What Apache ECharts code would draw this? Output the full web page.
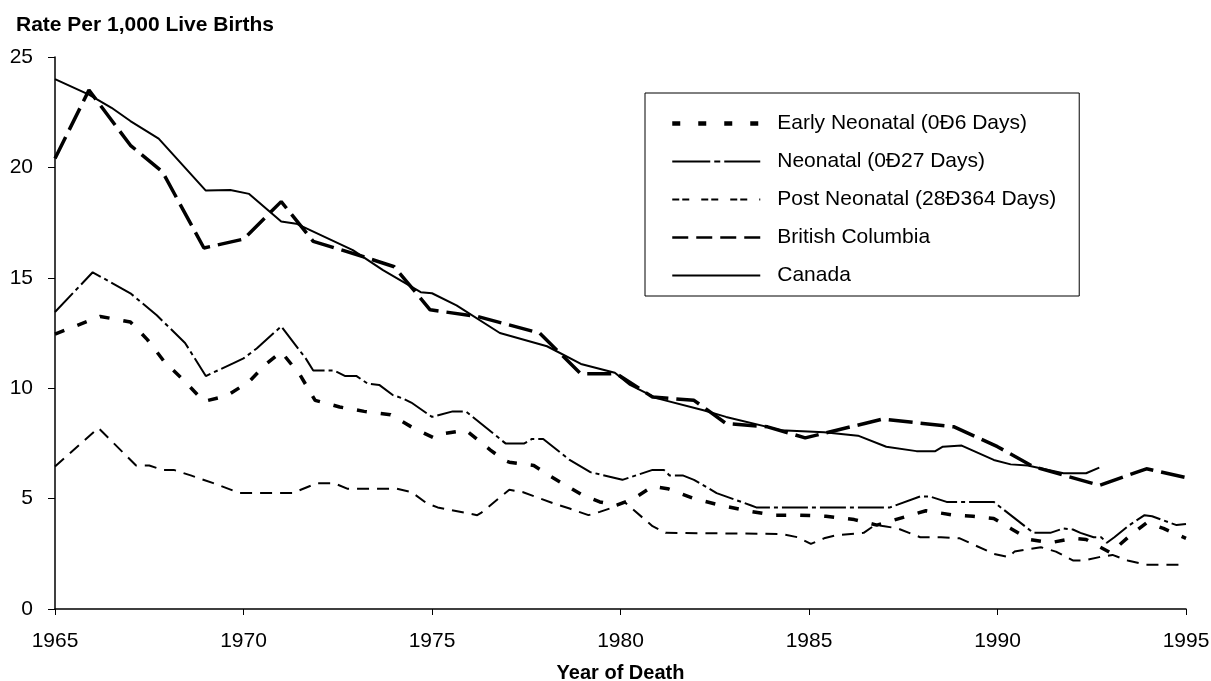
<!DOCTYPE html>
<html lang="en">
<head>
    <meta charset="UTF-8">
    <script src="https://cdn.jsdelivr.net/npm/echarts@6/dist/echarts.min.js"></script>
    <title>Infant mortality rates</title>
    <style>
        html, body { margin: 0; padding: 0; background: #fff; }
    </style>
</head>
<body>
<div id="main" style="width: 1211px;height:681px;"></div>
<script type="text/javascript">
    // data (year, rate per 1,000 live births)
    var earlyYears = [1965, 1966.2, 1967, 1967.45, 1967.9, 1968.45, 1968.95, 1969.55, 1970.15, 1970.6, 1971, 1971.5, 1971.9, 1972.55, 1973.2, 1973.9, 1974.5, 1975.05, 1975.35, 1975.9, 1976.55, 1976.9, 1977.05, 1977.7, 1978.15, 1978.75, 1979, 1979.45, 1979.9, 1980.35, 1980.85, 1981.25, 1981.95, 1982.65, 1983.35, 1984.05, 1984.75, 1985.45, 1986.2, 1986.8, 1987.5, 1988.1, 1988.85, 1989.35, 1989.9, 1990.35, 1990.85, 1991.4, 1992, 1992.35, 1993, 1993.5, 1993.95, 1994.4, 1995];
    var earlyRates = [12.45, 13.25, 13.0, 12.2, 11.2, 10.3, 9.4, 9.65, 10.3, 11.1, 11.65, 10.6, 9.45, 9.15, 8.95, 8.8, 8.2, 7.75, 7.95, 8.1, 7.2, 6.75, 6.65, 6.5, 6.0, 5.4, 5.15, 4.85, 4.7, 5.0, 5.55, 5.45, 5.0, 4.7, 4.45, 4.25, 4.25, 4.2, 4.05, 3.8, 4.15, 4.45, 4.25, 4.2, 4.1, 3.65, 3.15, 3.0, 3.2, 3.15, 2.55, 3.3, 3.9, 3.65, 3.2];

    var neoYears = [1965, 1966, 1967, 1967.7, 1968.45, 1969, 1969.75, 1970, 1970.35, 1971, 1971.65, 1971.85, 1972.4, 1972.7, 1973, 1973.3, 1973.6, 1973.95, 1974.2, 1974.45, 1975, 1975.55, 1975.9, 1976.95, 1977.45, 1977.65, 1977.95, 1978.65, 1979.2, 1980.05, 1980.85, 1981.15, 1981.3, 1981.65, 1981.95, 1982.55, 1983.45, 1983.6, 1987.15, 1987.95, 1988.2, 1988.65, 1989.9, 1990.95, 1991.4, 1991.75, 1992, 1992.2, 1992.55, 1992.75, 1992.9, 1993.1, 1993.5, 1993.9, 1994.1, 1994.75, 1995];
    var neoRates = [13.45, 15.25, 14.3, 13.3, 12.05, 10.55, 11.15, 11.35, 11.8, 12.8, 11.35, 10.8, 10.8, 10.55, 10.55, 10.2, 10.15, 9.7, 9.55, 9.35, 8.7, 8.95, 8.95, 7.5, 7.5, 7.7, 7.7, 6.75, 6.2, 5.85, 6.3, 6.3, 6.05, 6.05, 5.85, 5.25, 4.7, 4.6, 4.6, 5.1, 5.1, 4.85, 4.85, 3.45, 3.45, 3.65, 3.6, 3.45, 3.25, 3.25, 3.0, 3.25, 3.8, 4.25, 4.2, 3.8, 3.85];

    var postYears = [1965, 1966.15, 1967.15, 1967.5, 1967.85, 1968.15, 1968.6, 1969.2, 1969.9, 1971.3, 1971.95, 1972.4, 1972.75, 1974.05, 1974.45, 1974.85, 1975.15, 1976.2, 1976.3, 1977.05, 1977.4, 1978.2, 1978.65, 1979.15, 1979.45, 1979.8, 1980.1, 1980.85, 1981.2, 1984.25, 1984.7, 1985.05, 1985.4, 1985.75, 1986.45, 1986.75, 1987, 1987.35, 1987.95, 1988.5, 1989, 1989.9, 1990.3, 1990.45, 1991.15, 1991.55, 1992, 1992.3, 1992.7, 1993.05, 1993.45, 1993.95, 1994.8];
    var postRates = [6.45, 8.2, 6.5, 6.5, 6.3, 6.3, 6.05, 5.7, 5.25, 5.25, 5.7, 5.7, 5.45, 5.45, 5.3, 4.8, 4.6, 4.25, 4.35, 5.4, 5.3, 4.8, 4.55, 4.25, 4.4, 4.6, 4.85, 3.75, 3.45, 3.4, 3.25, 2.95, 3.2, 3.35, 3.45, 3.8, 3.75, 3.65, 3.25, 3.25, 3.2, 2.5, 2.35, 2.6, 2.8, 2.6, 2.2, 2.2, 2.35, 2.45, 2.2, 2.0, 2.0];

    var bcYears = [1965, 1965.9, 1967, 1967.85, 1968.95, 1970, 1971, 1971.85, 1973.1, 1974, 1974.95, 1976.2, 1977.85, 1978.95, 1979.9, 1980.85, 1981.95, 1982.8, 1983.9, 1984.9, 1986.95, 1988.85, 1990, 1990.95, 1992.7, 1993.95, 1995];
    var bcRates = [20.4, 23.5, 21.0, 19.8, 16.35, 16.75, 18.45, 16.65, 16.0, 15.5, 13.55, 13.25, 12.5, 10.65, 10.65, 9.6, 9.45, 8.4, 8.25, 7.75, 8.6, 8.25, 7.35, 6.45, 5.6, 6.35, 5.95];

    var canadaYears = [1965, 1965.9, 1966.5, 1967, 1967.75, 1969, 1969.65, 1970.15, 1971, 1971.4, 1972.9, 1973.7, 1974.45, 1974.7, 1975, 1975.65, 1976.8, 1978.05, 1978.95, 1979.85, 1980.25, 1980.95, 1982.2, 1982.8, 1984.25, 1985.4, 1986.3, 1987.05, 1987.85, 1988.35, 1988.55, 1989.05, 1989.9, 1990.35, 1990.8, 1991.75, 1992.35, 1992.7];
    var canadaRates = [24.0, 23.3, 22.7, 22.1, 21.3, 18.95, 18.98, 18.8, 17.55, 17.45, 16.25, 15.35, 14.6, 14.35, 14.3, 13.75, 12.5, 11.9, 11.1, 10.7, 10.15, 9.55, 9.0, 8.7, 8.1, 8.0, 7.85, 7.35, 7.15, 7.15, 7.35, 7.4, 6.75, 6.55, 6.5, 6.15, 6.15, 6.4];

    var seriesNames = ['Early Neonatal (0Đ6 Days)', 'Neonatal (0Đ27 Days)', 'Post Neonatal (28Đ364 Days)', 'British Columbia', 'Canada'];
    var yearTicks = [1965, 1995, 5];

    function pairs(xs, ys) {
        var out = [];
        for (var i = 0; i < xs.length; i++) out.push([xs[i], ys[i]]);
        return out;
    }

    var font = 'Liberation Sans, Arial, sans-serif';
    var myChart = echarts.init(document.getElementById('main'));

    function line(name, data, width, dash, z) {
        return {
            name: name,
            type: 'line',
            data: data,
            symbol: 'none',
            z: z,
            color: '#000',
            itemStyle: { color: '#000' },
            lineStyle: { color: '#000', width: width, type: dash }
        };
    }

    var option = {
        animation: false,
        backgroundColor: '#fff',
        color: ['#000'],
        title: {
            text: 'Rate Per 1,000 Live Births',
            left: 11,
            top: 10,
            textStyle: { fontFamily: font, fontSize: 21, fontWeight: 'bold', color: '#000' }
        },
        legend: {
            orient: 'vertical',
            left: 645,
            top: 93,
            padding: [20, 23, 10, 25],
            itemGap: 17,
            itemWidth: 88,
            itemHeight: 21,
            borderColor: '#000',
            borderWidth: 1,
            backgroundColor: '#fff',
            itemStyle: { opacity: 0 },
            textStyle: { fontFamily: font, fontSize: 21, color: '#000', padding: [0, 0, 0, 12] },
            data: [
                { name: seriesNames[0], lineStyle: { type: [8, 18], width: 4.5 } },
                { name: seriesNames[1], lineStyle: { type: [38, 4, 6, 4], width: 2 } },
                { name: seriesNames[2], lineStyle: { type: [7, 3, 7, 12], width: 2 } },
                { name: seriesNames[3], lineStyle: { type: [16, 8], width: 2.5 } },
                { name: seriesNames[4], lineStyle: { type: 'solid', width: 2 } }
            ]
        },
        grid: {
            left: 55,
            right: 25,
            top: 57,
            bottom: 72,
            containLabel: false,
            outerBoundsMode: 'none'
        },
        xAxis: {
            type: 'value',
            min: yearTicks[0],
            max: yearTicks[1],
            interval: yearTicks[2],
            name: 'Year of Death',
            nameLocation: 'middle',
            nameGap: 54,
            nameTextStyle: { fontFamily: font, fontSize: 20, fontWeight: 'bold', color: '#000' },
            axisLine: { lineStyle: { color: '#000', width: 1.5 } },
            axisTick: { show: true, inside: false, length: 6, lineStyle: { color: '#000' } },
            axisLabel: {
                fontFamily: font, fontSize: 21, color: '#000', margin: 22,
                formatter: function (v) { return String(v); }
            },
            splitLine: { show: false }
        },
        yAxis: {
            type: 'value',
            min: 0,
            max: 25,
            interval: 5,
            axisLine: { show: true, lineStyle: { color: '#000', width: 1.5 } },
            axisTick: { show: true, inside: false, length: 7, lineStyle: { color: '#000' } },
            axisLabel: { fontFamily: font, fontSize: 21, color: '#000', margin: 22 },
            splitLine: { show: false }
        },
        series: [
            line(seriesNames[0], pairs(earlyYears, earlyRates), 3.5, [10, 14], 3),
            line(seriesNames[1], pairs(neoYears, neoRates), 2, [26, 4, 4, 4], 2),
            line(seriesNames[2], pairs(postYears, postRates), 2, [12, 8], 2),
            line(seriesNames[3], pairs(bcYears, bcRates), 3.5, [24, 8], 3),
            line(seriesNames[4], pairs(canadaYears, canadaRates), 2, 'solid', 2)
        ]
    };

    myChart.setOption(option);
</script>
</body>
</html>
